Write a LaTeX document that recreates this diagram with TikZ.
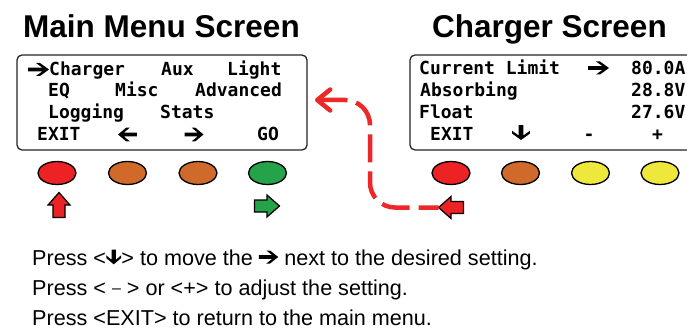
\documentclass[tikz,border=0pt]{standalone}
\usepackage{fontspec}
\setmainfont{Liberation Sans}
\newfontfamily\lcdfont{DejaVu Sans Mono}
\usetikzlibrary{arrows.meta,shapes.geometric}
\definecolor{redb}{RGB}{237,34,36}
\definecolor{orab}{RGB}{208,106,42}
\definecolor{greb}{RGB}{36,163,74}
\definecolor{yelb}{RGB}{238,232,60}
\definecolor{dashred}{RGB}{236,40,40}
\tikzset{
  lcdtxt/.style={font=\lcdfont\bfseries\fontsize{18}{18}\selectfont, inner sep=0pt, anchor=base west},
  ttl/.style={font=\bfseries\fontsize{31.5}{31.5}\selectfont, inner sep=0pt, anchor=base},
  btxt/.style={font=\fontsize{21.6}{21.6}\selectfont, inner sep=0pt, anchor=base west},
  screen/.style={draw=black!85, line width=1.3pt, rounded corners=5pt},
  btn/.style={draw=black, line width=1.3pt, ellipse, inner sep=0pt, minimum width=38pt, minimum height=23pt},
  hv/.pic={\fill[pic actions] (10.5,0) -- (1.5,-6.5) -- (-2.5,-6.5) -- (4,-1.8) -- (-10.5,-1.8) -- (-10.5,1.8) -- (4,1.8) -- (-2.5,6.5) -- (1.5,6.5) -- cycle;},
  blk/.pic={\draw[line width=1.2pt, line join=miter, pic actions] (-12.5,-6) -- (0,-6) -- (0,-11) -- (12.5,0) -- (0,11) -- (0,6) -- (-12.5,6) -- cycle;
            \coordinate (-tip) at (12.5,0); \coordinate (-tail) at (-12.5,0);},
  dashln/.style={draw=dashred, line width=4.5pt, dash pattern=on 28pt off 9pt, rounded corners=25pt},
}
\begin{document}
\begin{tikzpicture}[x=1pt,y=-1pt]
\useasboundingbox (0,0) rectangle (687,334);
\clip (0,0) rectangle (687,334);
\fill[white] (0,0) rectangle (687,334);

% titles
\node[ttl] (t1) at (161.5,38) {Main Menu Screen};
\node[ttl] (t2) at (549.5,37.5) {Charger Screen};

% screens
\draw[screen] (17,55) rectangle (307,150);
\draw[screen] (410,55) rectangle (720,150);

% left screen text
\pic[black] at (38.5,69.5) {hv};
\node[lcdtxt] (a1) at (49,76) {Charger};
\node[lcdtxt] (a2) at (161,76) {Aux};
\node[lcdtxt] (a3) at (227,76) {Light};
\node[lcdtxt] (a4) at (48,97) {EQ};
\node[lcdtxt] (a5) at (115,97) {Misc};
\node[lcdtxt] (a6) at (195,97) {Advanced};
\node[lcdtxt] (a7) at (48,118) {Logging};
\node[lcdtxt] (a8) at (160,118) {Stats};
\node[lcdtxt] (a9) at (37,140) {EXIT};
\pic[black, rotate=180, xscale=0.9, yscale=1.05] at (127.5,134.5) {hv};
\pic[black, xscale=0.9, yscale=1.05] at (194,134.5) {hv};
\node[lcdtxt] (a10) at (257,140) {GO};

% right screen text
\node[lcdtxt] (c1) at (419,75) {Current Limit};
\pic[black] at (598.5,68) {hv};
\node[lcdtxt] (c2) at (631,75) {80.0A};
\node[lcdtxt] (c3) at (420,97) {Absorbing};
\node[lcdtxt] (c4) at (631,97) {28.8V};
\node[lcdtxt] (c5) at (419,118) {Float};
\node[lcdtxt] (c6) at (631,118) {27.6V};
\node[lcdtxt] (c7) at (430,140) {EXIT};
\pic[black, rotate=-90, xscale=0.71, yscale=1.38] at (521,132.5) {hv};
\node[lcdtxt, anchor=base] (c8) at (589,140) {-};
\node[lcdtxt, anchor=base] (c9) at (657.5,140) {+};

% buttons
\node[btn, fill=redb] (m1) at (57,173) {};
\node[btn, fill=orab] (m2) at (127.5,173) {};
\node[btn, fill=orab] (m3) at (198,173) {};
\node[btn, fill=greb] (m4) at (267.5,173) {};
\node[btn, fill=redb] (n1) at (451,173) {};
\node[btn, fill=orab] (n2) at (520.5,173) {};
\node[btn, fill=yelb] (n3) at (590.5,173) {};
\node[btn, fill=yelb] (n4) at (660,173) {};

% block arrows
\pic[fill=redb, rotate=90] (ua) at (59,205) {blk};
\pic[fill=greb] (ga) at (267,206) {blk};
\pic[fill=redb, rotate=180] (la) at (451,207.5) {blk};

% dashed return connector
\coordinate (tgt) at (315,100);
\coordinate (bend) at (370,207.5);
\draw[dashln, {Straight Barb[length=13pt,width=21pt,round]}-] (tgt) -| (bend) -- (la-tip);

% instructions
\node[btxt] (l1a) at (32,265) {Press <};
\pic[black, rotate=-90, xscale=0.7, yscale=1.15] at ([xshift=7.5pt,yshift=8pt]l1a.base east) {hv};
\node[btxt] (l1b) at ([xshift=15pt]l1a.base east) {> to move the};
\pic[black, xscale=0.92] at ([xshift=15.5pt,yshift=8pt]l1b.base east) {hv};
\node[btxt] (l1c) at ([xshift=31pt]l1b.base east) {next to the desired setting.};
\node[btxt] (l2) at (32,295) {Press < \raisebox{2pt}{\fontsize{16}{16}\selectfont –} > or <+> to adjust the setting.};
\node[btxt] (l3) at (32,325) {Press <EXIT> to return to the main menu.};
\end{tikzpicture}
\end{document}
